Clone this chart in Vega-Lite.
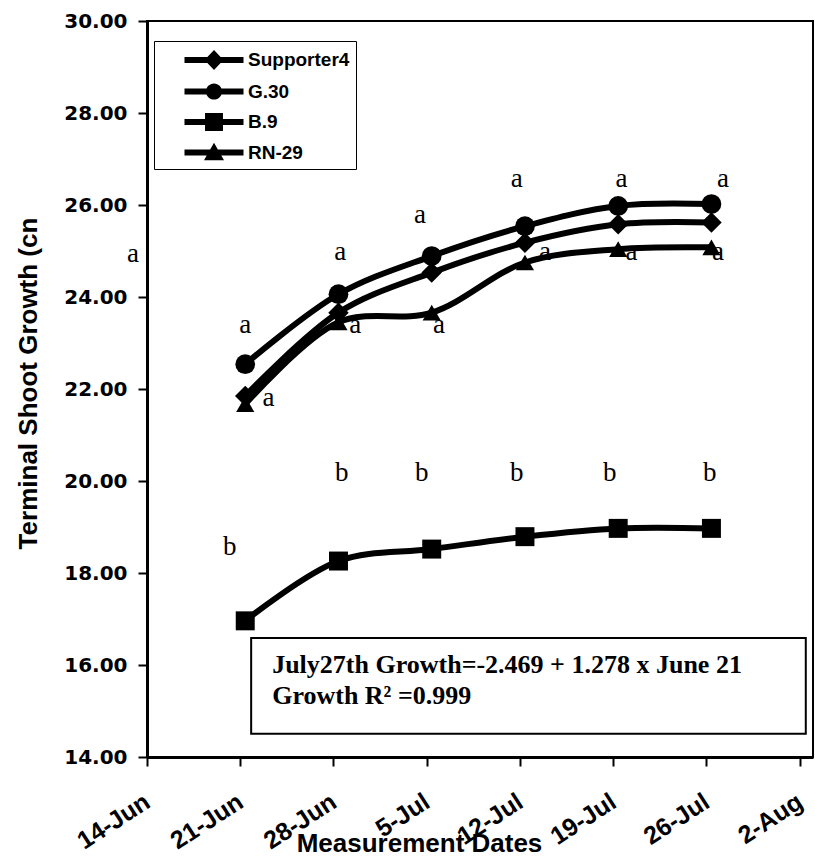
{
  "$schema": "https://vega.github.io/schema/vega-lite/v6.json",
  "width": 666,
  "height": 736,
  "autosize": "none",
  "padding": {"left": 147, "top": 21, "right": 2, "bottom": 100},
  "background": "white",
  "config": {
    "view": {"stroke": "black", "strokeWidth": 2},
    "axis": {"grid": false, "domainColor": "black", "tickColor": "black", "labelColor": "black", "titleColor": "black", "domainWidth": 3, "tickWidth": 2, "tickSize": 9}
  },
  "datasets": {
    "series": [
      {"series": "Supporter4", "date": "2010-06-21T09:00:00Z", "value": 21.85},
      {"series": "Supporter4", "date": "2010-06-28T09:00:00Z", "value": 23.66},
      {"series": "Supporter4", "date": "2010-07-05T09:00:00Z", "value": 24.53},
      {"series": "Supporter4", "date": "2010-07-12T09:00:00Z", "value": 25.18},
      {"series": "Supporter4", "date": "2010-07-19T09:00:00Z", "value": 25.58},
      {"series": "Supporter4", "date": "2010-07-26T09:00:00Z", "value": 25.62},
      {"series": "G.30", "date": "2010-06-21T09:00:00Z", "value": 22.54},
      {"series": "G.30", "date": "2010-06-28T09:00:00Z", "value": 24.06},
      {"series": "G.30", "date": "2010-07-05T09:00:00Z", "value": 24.89},
      {"series": "G.30", "date": "2010-07-12T09:00:00Z", "value": 25.54},
      {"series": "G.30", "date": "2010-07-19T09:00:00Z", "value": 25.98},
      {"series": "G.30", "date": "2010-07-26T09:00:00Z", "value": 26.02},
      {"series": "B.9", "date": "2010-06-21T09:00:00Z", "value": 16.96},
      {"series": "B.9", "date": "2010-06-28T09:00:00Z", "value": 18.26},
      {"series": "B.9", "date": "2010-07-05T09:00:00Z", "value": 18.52},
      {"series": "B.9", "date": "2010-07-12T09:00:00Z", "value": 18.79},
      {"series": "B.9", "date": "2010-07-19T09:00:00Z", "value": 18.97},
      {"series": "B.9", "date": "2010-07-26T09:00:00Z", "value": 18.97},
      {"series": "RN-29", "date": "2010-06-21T09:00:00Z", "value": 21.67},
      {"series": "RN-29", "date": "2010-06-28T09:00:00Z", "value": 23.45},
      {"series": "RN-29", "date": "2010-07-05T09:00:00Z", "value": 23.66},
      {"series": "RN-29", "date": "2010-07-12T09:00:00Z", "value": 24.75},
      {"series": "RN-29", "date": "2010-07-19T09:00:00Z", "value": 25.04},
      {"series": "RN-29", "date": "2010-07-26T09:00:00Z", "value": 25.08}
    ],
    "letters": [
      {"letter": "a", "date": "2010-06-12T22:48:00Z", "value": 24.77},
      {"letter": "a", "date": "2010-06-21T09:00:00Z", "value": 23.21},
      {"letter": "a", "date": "2010-06-23T03:00:00Z", "value": 21.62},
      {"letter": "a", "date": "2010-06-28T12:00:00Z", "value": 24.8},
      {"letter": "a", "date": "2010-06-29T15:00:00Z", "value": 23.21},
      {"letter": "a", "date": "2010-07-04T12:00:00Z", "value": 25.6},
      {"letter": "a", "date": "2010-07-05T22:00:00Z", "value": 23.21},
      {"letter": "a", "date": "2010-07-11T18:00:00Z", "value": 26.39},
      {"letter": "a", "date": "2010-07-13T21:00:00Z", "value": 24.8},
      {"letter": "a", "date": "2010-07-19T15:00:00Z", "value": 26.39},
      {"letter": "a", "date": "2010-07-20T09:00:00Z", "value": 24.8},
      {"letter": "a", "date": "2010-07-27T06:00:00Z", "value": 26.39},
      {"letter": "a", "date": "2010-07-26T21:00:00Z", "value": 24.8},
      {"letter": "b", "date": "2010-06-20T05:00:00Z", "value": 18.39},
      {"letter": "b", "date": "2010-06-28T15:00:00Z", "value": 19.99},
      {"letter": "b", "date": "2010-07-04T15:00:00Z", "value": 19.99},
      {"letter": "b", "date": "2010-07-11T18:00:00Z", "value": 19.99},
      {"letter": "b", "date": "2010-07-18T18:00:00Z", "value": 19.99},
      {"letter": "b", "date": "2010-07-26T06:00:00Z", "value": 19.99}
    ],
    "box": [
      {"date": "2010-06-21T19:40:00Z", "date2": "2010-08-02T11:00:00Z", "value": 16.585, "value2": 14.506}
    ],
    "eq": [
      {"text": "July27th Growth=-2.469 + 1.278 x June 21", "date": "2010-06-23T09:30:00Z", "value": 15.83},
      {"text": "Growth R² =0.999", "date": "2010-06-23T09:30:00Z", "value": 15.16}
    ]
  },
  "layer": [
    {
      "data": {"name": "series"},
      "mark": {"type": "line", "interpolate": "catmull-rom", "strokeWidth": 6, "color": "black"},
      "encoding": {
        "x": {
          "field": "date", "type": "temporal",
          "scale": {"type": "utc", "domain": [{"year": 2010, "month": 6, "date": 14, "utc": true}, {"year": 2010, "month": 8, "date": 3, "utc": true}]},
          "axis": {
            "values": [
              {"year": 2010, "month": 6, "date": 14, "utc": true},
              {"year": 2010, "month": 6, "date": 21, "utc": true},
              {"year": 2010, "month": 6, "date": 28, "utc": true},
              {"year": 2010, "month": 7, "date": 5, "utc": true},
              {"year": 2010, "month": 7, "date": 12, "utc": true},
              {"year": 2010, "month": 7, "date": 19, "utc": true},
              {"year": 2010, "month": 7, "date": 26, "utc": true},
              {"year": 2010, "month": 8, "date": 2, "utc": true}
            ],
            "labelExpr": "utcFormat(datum.value, '%-d-%b')",
            "labelAngle": -33, "labelAlign": "right", "labelBaseline": "middle",
            "labelFont": "Liberation Sans", "labelFontWeight": "bold", "labelFontSize": 25,
            "labelPadding": 33, "labelOverlap": false, "labelFlush": false, "labelBound": false,
            "title": "Measurement Dates", "titleFont": "Liberation Sans", "titleFontSize": 26, "titleFontWeight": "bold",
            "titleX": 272, "titleY": 86, "titleAlign": "center", "titleBaseline": "middle"
          }
        },
        "y": {
          "field": "value", "type": "quantitative",
          "scale": {"domain": [14, 30], "nice": false, "zero": false},
          "axis": {
            "values": [14, 16, 18, 20, 22, 24, 26, 28, 30],
            "format": ".2f",
            "labelFont": "DejaVu Sans", "labelFontWeight": "bold", "labelFontSize": 20,
            "labelPadding": 11, "labelFlush": false, "labelOverlap": false,
            "title": "Terminal Shoot Growth (cn", "titleFont": "Liberation Sans", "titleFontSize": 26, "titleFontWeight": "bold",
            "titleX": -119, "titleY": 362, "titleAngle": -90, "titleAlign": "center", "titleBaseline": "middle"
          }
        },
        "detail": {"field": "series"}
      }
    },
    {
      "data": {"name": "series"},
      "mark": {"type": "point", "filled": true, "color": "black", "opacity": 1},
      "encoding": {
        "x": {"field": "date", "type": "temporal"},
        "y": {"field": "value", "type": "quantitative"},
        "shape": {"field": "series", "scale": {"domain": ["Supporter4", "G.30", "B.9", "RN-29"], "range": ["diamond", "circle", "square", "triangle-up"]}, "legend": null},
        "size": {"field": "series", "scale": {"domain": ["Supporter4", "G.30", "B.9", "RN-29"], "range": [420, 330, 530, 420]}, "legend": null}
      }
    },
    {
      "data": {"name": "series"},
      "mark": {"type": "point", "filled": true, "color": "black", "opacity": 0},
      "encoding": {
        "x": {"field": "date", "type": "temporal"},
        "y": {"field": "value", "type": "quantitative"},
        "shape": {
          "field": "series",
          "scale": {
            "domain": ["Supporter4", "G.30", "B.9", "RN-29"],
            "range": [
              "M-2.27,-0.23H2.27V0.23H-2.27Z M0,-0.77L0.73,0L0,0.77L-0.73,0Z",
              "M-2.27,-0.23H2.27V0.23H-2.27Z M-0.62,0A0.62,0.62,0,1,1,0.62,0A0.62,0.62,0,1,1,-0.62,0Z",
              "M-2.27,-0.23H2.27V0.23H-2.27Z M-0.69,-0.69H0.69V0.69H-0.69Z",
              "M-2.27,-0.23H2.27V0.23H-2.27Z M0,-0.75L0.77,0.6L-0.77,0.6Z"
            ]
          },
          "legend": {
            "orient": "none", "legendX": 7, "legendY": 20, "title": null,
            "symbolSize": 676, "symbolOpacity": 1, "symbolFillColor": "black", "symbolStrokeColor": "black", "symbolStrokeWidth": 0,
            "symbolOffset": 41, "labelOffset": 21,
            "labelFont": "Liberation Sans", "labelFontSize": 19, "labelFontWeight": "bold", "labelColor": "black", "labelLimit": 300,
            "rowPadding": 7.5, "padding": 6, "strokeColor": "black", "fillColor": "white"
          }
        }
      }
    },
    {
      "data": {"name": "letters"},
      "mark": {"type": "text", "font": "Liberation Serif", "fontSize": 27, "align": "center", "baseline": "alphabetic", "color": "black"},
      "encoding": {
        "x": {"field": "date", "type": "temporal"},
        "y": {"field": "value", "type": "quantitative"},
        "text": {"field": "letter"}
      }
    },
    {
      "data": {"name": "box"},
      "mark": {"type": "rect", "fill": "white", "stroke": "black", "strokeWidth": 2},
      "encoding": {
        "x": {"field": "date", "type": "temporal"},
        "x2": {"field": "date2"},
        "y": {"field": "value", "type": "quantitative"},
        "y2": {"field": "value2"}
      }
    },
    {
      "data": {"name": "eq"},
      "mark": {"type": "text", "font": "Liberation Serif", "fontSize": 26, "fontWeight": "bold", "align": "left", "baseline": "alphabetic", "color": "black"},
      "encoding": {
        "x": {"field": "date", "type": "temporal"},
        "y": {"field": "value", "type": "quantitative"},
        "text": {"field": "text"}
      }
    }
  ],
  "resolve": {"scale": {"shape": "independent"}, "legend": {"shape": "independent"}}
}
